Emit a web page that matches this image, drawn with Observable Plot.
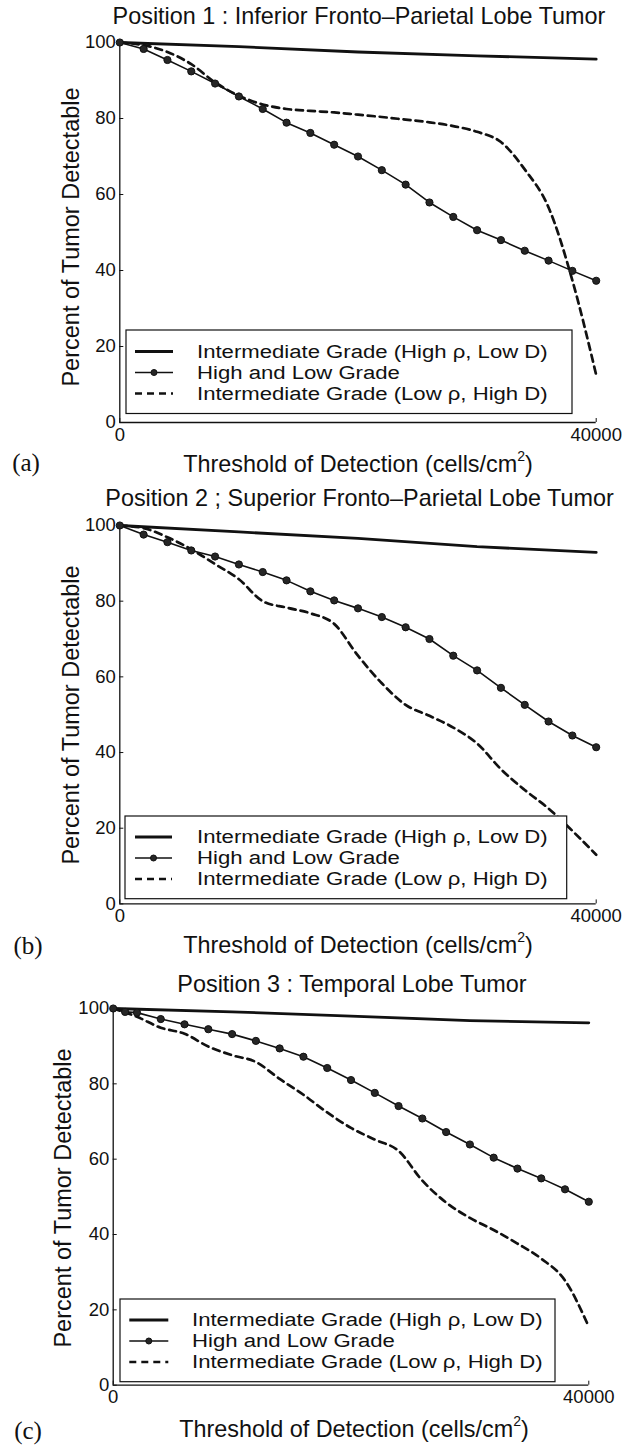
<!DOCTYPE html>
<html>
<head>
<meta charset="utf-8">
<script src="https://cdn.jsdelivr.net/npm/d3@7"></script>
<script src="https://cdn.jsdelivr.net/npm/@observablehq/plot@0.6"></script>
<style>
  body { margin: 0; background: #fff; }
  #fig { position: relative; width: 624px; height: 1447px; overflow: hidden;
         font-family: "Liberation Sans", Arial, Helvetica, sans-serif; color: #111; }
  .t { position: absolute; white-space: nowrap; line-height: 1; transform: translate(-50%, -50%); z-index: 2; }
  .title { font-size: 23.4px; }
  .xlab { font-size: 23.4px; }
  .ylab { font-size: 23.5px; transform: translate(-50%, -50%) rotate(-90deg); }
  .tag { font-family: "Liberation Serif", "Times New Roman", serif; font-size: 25px; }
  .sup { font-size: 0.6em; position: relative; top: -0.75em; }
  svg.plot { position: absolute; left: 0; }
  svg.legend { position: absolute; left: 0; top: 0; z-index: 3; overflow: visible; }
</style>
</head>
<body>
<div id="fig"></div>
<script>
// ---------------- data ----------------
const titles = [
  "Position 1 : Inferior Fronto\u2013Parietal Lobe Tumor",
  "Position 2 ; Superior Fronto\u2013Parietal Lobe Tumor",
  "Position 3 : Temporal Lobe Tumor"
];
const tags = ["(a)", "(b)", "(c)"];
const seriesNames = [
  "Intermediate Grade (High \u03c1, Low D)",
  "High and Low Grade",
  "Intermediate Grade (Low \u03c1, High D)"
];
const xLabel = "Threshold of Detection (cells/cm";
const yLabel = "Percent of Tumor Detectable";
const xTicks = [0, 40000];
const yTicks = [0, 20, 40, 60, 80, 100];

const coarseThresholds = [0, 10000, 20000, 30000, 40000];
const thresholds = [0, 2000, 4000, 6000, 8000, 10000, 12000, 14000, 16000, 18000, 20000,
                    22000, 24000, 26000, 28000, 30000, 32000, 34000, 36000, 38000, 40000];
const thresholds3 = [0, 1000, 2000, 4000, 6000, 8000, 10000, 12000, 14000, 16000, 18000, 20000,
                     22000, 24000, 26000, 28000, 30000, 32000, 34000, 36000, 38000, 40000];

// Position 1
const p1HighRhoLowD = [100, 98.9, 97.5, 96.5, 95.6];
const p1HighLow = [100, 98.3, 95.4, 92.4, 89.2, 85.8, 82.5, 78.9, 76.2, 73.1, 70.0,
                   66.4, 62.6, 57.9, 54.1, 50.6, 48.0, 45.2, 42.6, 39.9, 37.3];
const p1LowRhoHighD = [100, 99.3, 97.5, 94.3, 89.5, 86.0, 83.7, 82.5, 82.0, 81.6, 81.0,
                       80.4, 79.7, 79.0, 78.0, 76.5, 73.8, 66.6, 56.6, 37.4, 12.5];
// Position 2
const p2HighRhoLowD = [100, 98.3, 96.6, 94.4, 92.9];
const p2HighLow = [100, 97.6, 95.6, 93.4, 91.8, 89.7, 87.7, 85.5, 82.6, 80.2, 78.1,
                   75.8, 73.1, 70.0, 65.6, 61.7, 57.1, 52.6, 48.2, 44.5, 41.4];
const p2LowRhoHighD = [100, 99.3, 96.9, 93.7, 89.8, 85.8, 80.0, 78.3, 76.8, 74.0, 65.6,
                       58.3, 52.6, 49.7, 46.6, 42.4, 35.6, 30.1, 25.2, 19.3, 13.0];
// Position 3
const p3HighRhoLowD = [100, 99.1, 98.0, 96.8, 96.2];
const p3HighLow = [100, 99.1, 98.9, 97.2, 95.8, 94.5, 93.2, 91.4, 89.4, 87.2, 84.2, 81.0,
                   77.6, 74.1, 70.8, 67.2, 63.9, 60.4, 57.5, 54.9, 52.0, 48.7];
const p3LowRhoHighD = [100, 97.8, 94.9, 93.3, 89.9, 87.6, 85.8, 81.3, 77.1, 72.4, 68.3,
                       65.2, 62.2, 54.3, 48.5, 44.4, 41.2, 37.6, 33.6, 27.8, 15.5];

// ---------------- layout (pixels) ----------------
const layout = [
  {left: 119.3, right: 595.7, y100: 41.7, y0: 421.7, titleX: 359, titleY: 17,
   xlabX: 358, xlabY: 465, ylabX: 71.6, ylabY: 237, tagX: 26, tagY: 462,
   leg: {x1: 126, x2: 572, y1: 330, y2: 413.5, rows: [351.5, 372.5, 393.5], sx1: 135, sx2: 173, tx: 197}},
  {left: 119.3, right: 595.7, y100: 525.3, y0: 903.7, titleX: 359.5, titleY: 499,
   xlabX: 358, xlabY: 946, ylabX: 71.6, ylabY: 715, tagX: 28, tagY: 945,
   leg: {x1: 125, x2: 566.7, y1: 816, y2: 898.7, rows: [837, 858, 879], sx1: 135, sx2: 172, tx: 197}},
  {left: 112.7, right: 588.3, y100: 1008.3, y0: 1385, titleX: 352, titleY: 985,
   xlabX: 354, xlabY: 1430, ylabX: 64, ylabY: 1198, tagX: 28, tagY: 1430,
   leg: {x1: 120, x2: 555, y1: 1299, y2: 1381.7, rows: [1320, 1341, 1362], sx1: 129.3, sx2: 168.3, tx: 192}}
];

const panels = [
  {solid: p1HighRhoLowD, markX: thresholds, mark: p1HighLow, dashed: p1LowRhoHighD},
  {solid: p2HighRhoLowD, markX: thresholds, mark: p2HighLow, dashed: p2LowRhoHighD},
  {solid: p3HighRhoLowD, markX: thresholds3, mark: p3HighLow, dashed: p3LowRhoHighD}
];

const ink = "#111";
const fig = document.getElementById("fig");

function addText(cls, x, y, html) {
  const d = document.createElement("div");
  d.className = "t " + cls;
  d.style.left = x + "px";
  d.style.top = y + "px";
  d.innerHTML = html;
  fig.appendChild(d);
}

panels.forEach((p, i) => {
  const L = layout[i];
  const mt = 20, mb = 40;
  const plotH = L.y0 - L.y100;
  const plotW = L.right - L.left;
  const solidData = coarseThresholds.map((x, j) => ({x, y: p.solid[j]}));
  const markData = p.markX.map((x, j) => ({x, y: p.mark[j]}));
  const dashData = thresholds.map((x, j) => ({x, y: p.dashed[j]}));

  const svg = Plot.plot({
    width: 624,
    height: plotH + mt + mb,
    marginLeft: L.left,
    marginRight: 624 - L.right,
    marginTop: mt,
    marginBottom: mb,
    x: {domain: [0, 40000]},
    y: {domain: [0, 100]},
    style: {background: "transparent", fontFamily: "Liberation Sans, Arial, sans-serif",
            fontSize: "18.5px", color: ink, overflow: "visible"},
    marks: [
      Plot.ruleX([0], {stroke: ink, strokeWidth: 1.3}),
      Plot.ruleY([0], {stroke: ink, strokeWidth: 1.3}),
      Plot.tickY(yTicks, {y: d => d, stroke: ink, strokeWidth: 1, insetRight: plotW - 4}),
      Plot.tickX(xTicks, {x: d => d, stroke: ink, strokeWidth: 1, insetTop: plotH - 4}),
      Plot.axisY({ticks: yTicks, tickSize: 0, tickPadding: 4, label: null, fontSize: 18.5}),
      Plot.axisX({ticks: xTicks, tickSize: 0, tickPadding: 5, label: null, fontSize: 18.5,
                  tickFormat: d => String(d)}),
      Plot.line(solidData, {x: "x", y: "y", stroke: ink, strokeWidth: 2.8}),
      Plot.line(dashData, {x: "x", y: "y", stroke: ink, strokeWidth: 2.7,
                           strokeDasharray: "7,5", curve: "monotone-x"}),
      Plot.line(markData, {x: "x", y: "y", stroke: ink, strokeWidth: 1.6}),
      Plot.dot(markData, {x: "x", y: "y", r: 3.6, fill: "#262626", stroke: ink, strokeWidth: 1})
    ]
  });
  svg.classList.add("plot");
  svg.style.top = (L.y100 - mt) + "px";
  fig.appendChild(svg);

  addText("title", L.titleX, L.titleY, titles[i]);
  addText("xlab", L.xlabX, L.xlabY, xLabel + '<span class="sup">2</span>)');
  addText("ylab", L.ylabX, L.ylabY, yLabel);
  addText("tag", L.tagX, L.tagY, tags[i]);

  // legend box inside the axes
  const g = L.leg;
  const lg = d3.create("svg").attr("class", "legend").attr("width", 624).attr("height", 1447);
  lg.append("rect").attr("x", g.x1).attr("y", g.y1).attr("width", g.x2 - g.x1).attr("height", g.y2 - g.y1)
    .attr("fill", "#fff").attr("stroke", ink).attr("stroke-width", 1.2);
  lg.append("line").attr("x1", g.sx1).attr("x2", g.sx2).attr("y1", g.rows[0]).attr("y2", g.rows[0])
    .attr("stroke", ink).attr("stroke-width", 2.8);
  lg.append("line").attr("x1", g.sx1).attr("x2", g.sx2).attr("y1", g.rows[1]).attr("y2", g.rows[1])
    .attr("stroke", ink).attr("stroke-width", 1.6);
  lg.append("circle").attr("cx", (g.sx1 + g.sx2) / 2).attr("cy", g.rows[1]).attr("r", 3)
    .attr("fill", "#262626").attr("stroke", ink);
  lg.append("line").attr("x1", g.sx1).attr("x2", g.sx2).attr("y1", g.rows[2]).attr("y2", g.rows[2])
    .attr("stroke", ink).attr("stroke-width", 2.7).attr("stroke-dasharray", "7,5");
  seriesNames.forEach((name, k) => {
    lg.append("text")
      .attr("transform", `translate(${g.tx},${g.rows[k]}) scale(1.23,1)`)
      .attr("dy", "0.36em")
      .attr("fill", ink).attr("font-family", "Liberation Sans, Arial, sans-serif")
      .attr("font-size", 18).text(name);
  });
  fig.appendChild(lg.node());
});
</script>
</body>
</html>
